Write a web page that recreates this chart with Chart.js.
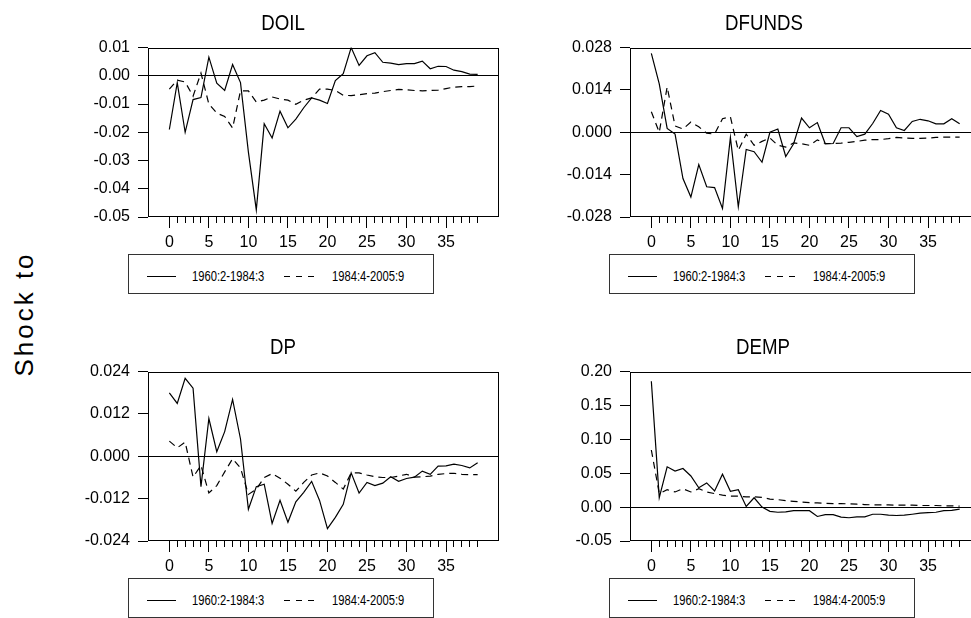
<!DOCTYPE html>
<html><head><meta charset="utf-8">
<script src="https://cdn.jsdelivr.net/npm/chart.js@4.4.0/dist/chart.umd.min.js"></script>
<style>
html,body{margin:0;padding:0;background:#fff;}
body{width:971px;height:618px;overflow:hidden;position:relative;font-family:"Liberation Sans",Arial,sans-serif;color:#000;}
canvas{position:absolute;}
.ttl{position:absolute;width:200px;text-align:center;font-size:22px;line-height:22px;transform:scaleX(0.85);white-space:nowrap;}
.leg{position:absolute;width:306px;height:40px;border:1px solid #333;box-sizing:border-box;background:#fff;}
.leg .ls{position:absolute;width:29px;height:0;border-top:1px solid #000;}
.leg .lt{position:absolute;font-size:14px;line-height:14px;white-space:nowrap;transform:scaleX(0.8);transform-origin:0 0;}
.leg svg{position:absolute;}
#shock{position:absolute;left:24px;top:314px;width:0;height:0;}
#shock div{position:absolute;left:0;top:0;transform:translate(-50%,-50%) rotate(-90deg);font-size:26px;line-height:26px;letter-spacing:3px;white-space:nowrap;}
</style>
</head><body>

<canvas id="c1" width="440" height="220" style="left:80px;top:30px;width:440px;height:220px"></canvas>
<canvas id="c2" width="440" height="220" style="left:562px;top:30px;width:440px;height:220px"></canvas>
<canvas id="c3" width="440" height="220" style="left:80px;top:354px;width:440px;height:220px"></canvas>
<canvas id="c4" width="440" height="220" style="left:562px;top:354px;width:440px;height:220px"></canvas>

<div class="ttl" style="left:183px;top:12px">DOIL</div>
<div class="ttl" style="left:664px;top:12px">DFUNDS</div>
<div class="ttl" style="left:183px;top:336px">DP</div>
<div class="ttl" style="left:663px;top:336px">DEMP</div>

<div id="shock"><div>Shock to</div></div>

<div id="legends"></div>

<script>
// ---- data ----
const horizon = [0,1,2,3,4,5,6,7,8,9,10,11,12,13,14,15,16,17,18,19,20,21,22,23,24,25,26,27,28,29,30,31,32,33,34,35,36,37,38,39];
const seriesNames = ['1960:2-1984:3', '1984:4-2005:9'];
const panelTitles = ['DOIL', 'DFUNDS', 'DP', 'DEMP'];

const doilSolid = [-0.019,-0.0024,-0.020,-0.0084,-0.0077,0.0066,-0.0026,-0.0052,0.004,-0.0024,
  -0.027,-0.0475,-0.017,-0.022,-0.0125,-0.0184,-0.0153,-0.0113,-0.0078,-0.0086,
  -0.0098,-0.0017,0.0008,0.0100,0.0037,0.0071,0.0082,0.0048,0.0045,0.0040,
  0.0043,0.0043,0.0052,0.0025,0.0034,0.0033,0.0020,0.0015,0.0006,0.0005];
const doilDashed = [-0.0047,-0.0015,-0.0022,-0.0072,0.001,-0.010,-0.0132,-0.0144,-0.0185,-0.0053,
  -0.0053,-0.0093,-0.0086,-0.0075,-0.0082,-0.0086,-0.0101,-0.0086,-0.0078,-0.0047,
  -0.0047,-0.0052,-0.0069,-0.0070,-0.0067,-0.0063,-0.0061,-0.0056,-0.0052,-0.0048,
  -0.0049,-0.0052,-0.0053,-0.0052,-0.0051,-0.0045,-0.0040,-0.0038,-0.0038,-0.0036];

const dfundsSolid = [0.0261,0.016,0.0013,-0.0006,-0.0153,-0.0214,-0.0107,-0.018,-0.0183,-0.0252,
  -0.0017,-0.0246,-0.0057,-0.0064,-0.0099,0,0.0011,-0.008,-0.0038,0.0047,
  0.0015,0.0032,-0.0038,-0.0037,0.0015,0.0015,-0.0014,-0.0006,0.0029,0.0072,
  0.006,0.0015,0.0006,0.0036,0.0043,0.0038,0.0028,0.0028,0.0045,0.0028];
const dfundsDashed = [0.0068,0,0.015,0.0021,0.0011,0.0034,0.0018,-0.0003,-0.0006,0.0045,
  0.0051,-0.006,-0.0006,-0.0043,-0.003,-0.0019,-0.0043,-0.0049,-0.0035,-0.0038,
  -0.0043,-0.0025,-0.0037,-0.0037,-0.0036,-0.0033,-0.003,-0.0026,-0.0024,-0.0024,
  -0.0021,-0.0017,-0.0019,-0.002,-0.002,-0.0019,-0.0017,-0.0016,-0.0016,-0.0016];

const dpSolid = [0.018,0.015,0.0221,0.0193,-0.0086,0.0107,0.0013,0.007,0.0161,0.0049,
  -0.015,-0.0086,-0.0079,-0.019,-0.0125,-0.0187,-0.0129,-0.0102,-0.0071,-0.0125,
  -0.0205,-0.0173,-0.0136,-0.0047,-0.0104,-0.0074,-0.0083,-0.0076,-0.0058,-0.0071,
  -0.0063,-0.0059,-0.0042,-0.0051,-0.0028,-0.0027,-0.0022,-0.0026,-0.0033,-0.0018];
const dpDashed = [0.0043,0.0024,0.004,-0.0059,-0.0026,-0.0104,-0.0083,-0.0044,-0.0007,-0.0033,
  -0.0108,-0.0093,-0.006,-0.0049,-0.0062,-0.0079,-0.0099,-0.0074,-0.0053,-0.0047,
  -0.0056,-0.0074,-0.0093,-0.0047,-0.0047,-0.0053,-0.0058,-0.006,-0.006,-0.0056,
  -0.0051,-0.0059,-0.0058,-0.0056,-0.0051,-0.0049,-0.0048,-0.0051,-0.0052,-0.0052];

const dempSolid = [0.1857,0.014,0.0595,0.0533,0.057,0.046,0.0286,0.0357,0.0238,0.0486,
  0.0233,0.0257,0.001,0.0138,0,-0.0062,-0.0076,-0.0071,-0.0052,-0.0052,
  -0.0052,-0.0138,-0.011,-0.011,-0.0148,-0.0157,-0.0143,-0.0143,-0.0105,-0.0105,
  -0.0119,-0.0124,-0.0119,-0.0105,-0.009,-0.0081,-0.0076,-0.0052,-0.0048,-0.0029];
const dempDashed = [0.0843,0.02,0.0257,0.0224,0.0271,0.0224,0.0271,0.0224,0.02,0.0176,
  0.0162,0.0162,0.0152,0.0152,0.0143,0.0119,0.011,0.0095,0.0086,0.0076,
  0.0067,0.0062,0.0057,0.0052,0.0052,0.0048,0.0043,0.0038,0.0033,0.0033,
  0.0033,0.0029,0.0029,0.0029,0.0024,0.0024,0.0024,0.0019,0.0019,0.0014];

// tick labels
const xMajorTicks = [0,5,10,15,20,25,30,35];
const xMinorTicks = horizon;
const doilTicks = [0.01,0.00,-0.01,-0.02,-0.03,-0.04,-0.05];
const dfundsTicks = [0.028,0.014,0,-0.014,-0.028];
const dpTicks = [0.024,0.012,0,-0.012,-0.024];
const dempTicks = [0.20,0.15,0.10,0.05,0.00,-0.05];

// ---- drawing ----
const X_MIN = -2.7, X_MAX = 41.7;
const tickFont = {family: '"Liberation Sans", Arial, sans-serif', size: 16};

const framePlugin = {
  id: 'frame',
  afterDraw(chart) {
    const {ctx, chartArea: a} = chart;
    ctx.save();
    ctx.strokeStyle = '#000';
    ctx.lineWidth = 1;
    ctx.strokeRect(Math.round(a.left) + 0.5, Math.round(a.top) + 0.5,
      Math.round(a.right - a.left) - 1, Math.round(a.bottom - a.top) - 1);
    ctx.restore();
  }
};

function toPoints(arr) { return arr.map((v, i) => ({x: horizon[i], y: v})); }

function makePanel(id, solid, dashed, yTicks, decimals) {
  const ymax = Math.max(...yTicks), ymin = Math.min(...yTicks);
  new Chart(document.getElementById(id), {
    type: 'line',
    data: {
      datasets: [
        {label: seriesNames[0], data: toPoints(solid), xAxisID: 'x', yAxisID: 'y',
         borderColor: '#000', borderWidth: 1.2, pointRadius: 0, tension: 0, fill: false},
        {label: seriesNames[1], data: toPoints(dashed), xAxisID: 'x', yAxisID: 'y',
         borderColor: '#000', borderWidth: 1.2, borderDash: [7, 5], pointRadius: 0, tension: 0, fill: false}
      ]
    },
    options: {
      responsive: false, animation: false, devicePixelRatio: 1,
      layout: {padding: {top: 13, right: 21, left: 0, bottom: 0}},
      plugins: {legend: {display: false}, title: {display: false}, tooltip: {enabled: false}},
      events: [],
      scales: {
        xm: {
          type: 'linear', position: 'bottom', weight: 0, min: X_MIN, max: X_MAX,
          afterBuildTicks: s => { s.ticks = xMinorTicks.map(v => ({value: v})); },
          ticks: {display: false},
          grid: {drawOnChartArea: false, drawTicks: true, tickLength: 6, tickColor: '#000', color: '#000', lineWidth: 1},
          border: {display: false},
          afterFit: s => { s.height = 0; }
        },
        x: {
          type: 'linear', position: 'bottom', weight: 1, min: X_MIN, max: X_MAX,
          afterBuildTicks: s => { s.ticks = xMajorTicks.map(v => ({value: v})); },
          ticks: {font: tickFont, color: '#000', padding: 5, maxRotation: 0, autoSkip: false,
                  callback: v => String(v)},
          grid: {drawOnChartArea: false, drawTicks: true, tickLength: 11, tickColor: '#000', color: '#000', lineWidth: 1},
          border: {display: false},
          afterFit: s => { s.height = 33; }
        },
        y: {
          type: 'linear', position: 'left', min: ymin, max: ymax,
          afterBuildTicks: s => { s.ticks = yTicks.map(v => ({value: v})); },
          ticks: {font: tickFont, color: '#000', padding: 8, autoSkip: false,
                  callback: v => (Math.abs(v) < 1e-12 ? 0 : v).toFixed(decimals)},
          grid: {drawOnChartArea: true, drawTicks: true, tickLength: 10, tickColor: '#000', lineWidth: 1,
                 color: c => (c.tick && Math.abs(c.tick.value) < 1e-12) ? '#000' : 'rgba(0,0,0,0)'},
          border: {display: false},
          afterFit: s => { s.width = 68; }
        }
      }
    },
    plugins: [framePlugin]
  });
}

makePanel('c1', doilSolid, doilDashed, doilTicks, 2);
makePanel('c2', dfundsSolid, dfundsDashed, dfundsTicks, 3);
makePanel('c3', dpSolid, dpDashed, dpTicks, 3);
makePanel('c4', dempSolid, dempDashed, dempTicks, 2);

// ---- legends (HTML boxes) ----
const legendSpots = [[128, 254], [609, 254], [128, 578], [609, 578]];
const legHost = document.getElementById('legends');
legendSpots.forEach(([l, t]) => {
  const box = document.createElement('div');
  box.className = 'leg';
  box.style.left = l + 'px';
  box.style.top = t + 'px';
  box.innerHTML =
    '<div class="ls" style="left:18px;top:21px"></div>' +
    '<div class="lt" style="left:63px;top:14px">' + seriesNames[0] + '</div>' +
    '<svg style="left:155px;top:18px" width="30" height="6"><line x1="0" y1="3.5" x2="30" y2="3.5" stroke="#000" stroke-width="1" stroke-dasharray="6,6"/></svg>' +
    '<div class="lt" style="left:203px;top:14px">' + seriesNames[1] + '</div>';
  legHost.appendChild(box);
});
</script>
</body></html>
